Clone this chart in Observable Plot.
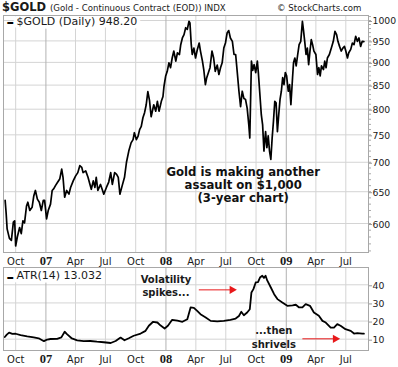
<!DOCTYPE html>
<html><head><meta charset="utf-8">
<script src="https://cdn.jsdelivr.net/npm/d3@7"></script>
<script src="https://cdn.jsdelivr.net/npm/@observablehq/plot@0.6"></script>
<style>
body{margin:0;background:#fff;}
#chart{width:398px;height:367px;overflow:hidden;font-family:"DejaVu Sans",sans-serif;color:#1a1a1a;}
svg{display:block}
</style></head><body>
<div id="chart">
<svg width="398" height="14" font-family="DejaVu Sans" fill="#1a1a1a">
<text id="t1" x="2" y="10.5" font-weight="bold" font-size="11.5"></text>
<text id="t2" x="50" y="10.5" font-size="8.6"></text>
<text id="t3" x="277" y="10.5" font-size="8.6"></text>
</svg>
</div>
<script>
const titleMain = "$GOLD";
const titleSub = "(Gold - Continuous Contract (EOD)) INDX";
const credit = "© StockCharts.com";

const priceDates = ["2006-08-30","2006-09-02","2006-09-05","2006-09-12","2006-09-18","2006-09-24","2006-09-28","2006-10-01","2006-10-06","2006-10-13","2006-10-18","2006-10-23","2006-10-28","2006-11-03","2006-11-07","2006-11-13","2006-11-20","2006-11-25","2006-11-30","2006-12-06","2006-12-12","2006-12-18","2006-12-24","2006-12-28",
"2007-01-03","2007-01-08","2007-01-15","2007-01-20","2007-01-25","2007-01-30","2007-02-06","2007-02-12","2007-02-18","2007-02-22","2007-02-27","2007-03-05","2007-03-12","2007-03-17","2007-03-25","2007-04-01","2007-04-08","2007-04-14","2007-04-20","2007-04-24","2007-05-02","2007-05-09","2007-05-15","2007-05-19","2007-05-25","2007-05-30","2007-06-03","2007-06-08","2007-06-16","2007-06-21","2007-06-26","2007-07-04","2007-07-11","2007-07-17","2007-07-22","2007-07-29","2007-08-04","2007-08-09","2007-08-14","2007-08-21","2007-08-28","2007-09-03","2007-09-10","2007-09-17","2007-09-23","2007-09-27","2007-10-03","2007-10-08","2007-10-13","2007-10-18","2007-10-23","2007-10-28","2007-11-02","2007-11-07","2007-11-12","2007-11-17","2007-11-25","2007-12-01","2007-12-06","2007-12-11","2007-12-18","2007-12-23","2007-12-26","2007-12-31",
"2008-01-05","2008-01-10","2008-01-15","2008-01-20","2008-01-25","2008-01-31","2008-02-05","2008-02-11","2008-02-15","2008-02-20","2008-02-25","2008-03-01","2008-03-06","2008-03-11","2008-03-14","2008-03-18","2008-03-21","2008-03-26","2008-03-31","2008-04-05","2008-04-11","2008-04-15","2008-04-21","2008-04-25","2008-04-30","2008-05-04","2008-05-09","2008-05-14","2008-05-20","2008-05-25","2008-05-30","2008-06-05","2008-06-10","2008-06-15","2008-06-20","2008-06-25","2008-06-30","2008-07-05","2008-07-10","2008-07-15","2008-07-21","2008-07-26","2008-07-31","2008-08-05","2008-08-10","2008-08-15","2008-08-20","2008-08-25","2008-08-30","2008-09-04","2008-09-09","2008-09-12","2008-09-17","2008-09-21","2008-09-25","2008-09-30","2008-10-05","2008-10-08","2008-10-12","2008-10-17","2008-10-21","2008-10-25","2008-10-30","2008-11-03","2008-11-07","2008-11-11","2008-11-15","2008-11-19","2008-11-23","2008-11-27","2008-12-01","2008-12-05","2008-12-09","2008-12-13","2008-12-17","2008-12-21","2008-12-25","2008-12-29",
"2009-01-02","2009-01-07","2009-01-11","2009-01-15","2009-01-20","2009-01-23","2009-01-27","2009-01-31","2009-02-04","2009-02-09","2009-02-14","2009-02-19","2009-02-22","2009-02-26","2009-03-02","2009-03-06","2009-03-10","2009-03-14","2009-03-18","2009-03-22","2009-03-26","2009-04-01","2009-04-06","2009-04-10","2009-04-14","2009-04-18","2009-04-24","2009-04-28","2009-05-02","2009-05-06","2009-05-12","2009-05-18","2009-05-24","2009-05-29","2009-06-03","2009-06-07","2009-06-12","2009-06-17","2009-06-22","2009-06-27","2009-07-01","2009-07-06","2009-07-10","2009-07-16","2009-07-21","2009-07-26","2009-07-31","2009-08-05","2009-08-10","2009-08-15","2009-08-20","2009-08-25"];
const priceValues = [636,616,592,578,575,602,604,567,580,594,585,604,601,627,633,620,625,643,652,638,633,620,636,636,
607,620,630,652,655,660,666,671,688,674,641,652,646,657,668,676,682,694,691,682,685,674,662,654,668,657,674,652,662,654,646,657,666,682,662,682,679,674,646,660,674,700,720,735,741,754,741,747,760,766,783,793,809,836,818,785,809,796,816,796,816,826,847,869,
880,899,888,910,926,903,922,918,941,957,965,982,978,998,994,941,918,933,910,928,945,926,903,884,851,866,877,888,926,910,880,894,873,888,899,933,945,969,975,957,949,918,918,877,837,805,837,822,820,802,769,744,903,882,895,877,903,877,837,789,769,720,756,726,748,720,705,744,776,816,813,756,789,820,837,866,851,877,
870,837,851,809,866,899,910,892,914,941,949,998,978,949,918,933,895,926,953,941,926,918,873,888,870,892,884,903,888,910,918,933,949,973,965,949,937,926,933,937,926,910,922,930,945,941,961,949,957,937,949,948.2];

const atrDates = ["2006-08-29","2006-09-04","2006-09-11","2006-09-21","2006-10-01","2006-10-16","2006-11-05","2006-11-25","2006-12-10","2006-12-26","2007-01-05","2007-01-15","2007-02-04","2007-02-17","2007-02-27","2007-03-06","2007-03-21","2007-04-06","2007-04-26","2007-05-16","2007-06-05","2007-06-26","2007-07-17","2007-08-01","2007-08-16","2007-08-28","2007-09-10","2007-09-25","2007-10-16","2007-10-31","2007-11-10","2007-11-23","2007-12-06","2007-12-16","2007-12-28","2008-01-07","2008-01-20","2008-02-05","2008-02-20","2008-03-06","2008-03-16","2008-03-26","2008-04-05","2008-04-15","2008-05-01","2008-05-16","2008-06-05","2008-06-25","2008-07-15","2008-07-31","2008-08-10","2008-08-17","2008-08-25","2008-09-04","2008-09-12","2008-09-17","2008-09-23","2008-09-30","2008-10-07","2008-10-13","2008-10-20","2008-10-25","2008-10-30","2008-11-04","2008-11-15","2008-11-25","2008-12-05","2008-12-20","2009-01-04","2009-01-20","2009-01-30","2009-02-09","2009-02-19","2009-03-01","2009-03-14","2009-03-26","2009-04-10","2009-04-21","2009-05-01","2009-05-16","2009-05-26","2009-06-05","2009-06-15","2009-06-30","2009-07-16","2009-07-26","2009-08-05","2009-08-20","2009-08-25"];
const atrValues = [11.2,12.5,13.6,12.9,13.0,12.3,11.6,11.0,10.5,8.9,9.8,10.1,10.2,11.0,14.1,12.8,10.4,9.4,8.9,9.0,8.6,8.3,7.9,9.0,10.9,9.4,10.5,11.9,13.1,14.6,17.4,19.6,19.2,17.5,15.9,17.4,20.7,20.2,19.6,21.0,27.5,27.3,25.6,23.8,22.0,20.1,19.8,20.1,20.7,21.4,22.8,25.1,23.2,24.7,26.5,35.8,37.6,41.3,41.5,44.0,45.0,43.8,45.0,42.4,38.5,34.8,32.1,30.2,28.4,28.7,29.0,27.5,27.5,29.3,28.4,24.7,22.9,20.1,19.2,16.4,16.4,18.3,17.4,15.5,14.6,13.1,13.3,13.1,13.032];

const priceTicks = [600,650,700,750,800,850,900,950,1000];
const atrTicks = [10,20,30,40];

// annotations
const priceNote = [{date:"2008-08-23", value:634, text:"Gold is making another\nassault on $1,000\n(3-year chart)"}];
const atrNotes = [
  {date:"2008-01-01", value:33.9, text:"Volatility\nspikes...", lh:1.26},
  {date:"2008-11-24", value:5.4, text:"...then\nshrivels", lh:1.33}
];
const atrArrows = [
  {from:"2008-04-10", to:"2008-07-20", value:37.2},
  {from:"2009-02-19", to:"2009-05-30", value:10.2}
];

document.getElementById("t1").textContent = titleMain;
document.getElementById("t2").textContent = titleSub;
document.getElementById("t3").textContent = credit;

const parse = d3.utcParse("%Y-%m-%d");
const price = priceDates.map((d,i)=>({date:parse(d), value:priceValues[i]}));
const atr = atrDates.map((d,i)=>({date:parse(d), value:atrValues[i]}));
const pNote = priceNote.map(d=>({...d, date:parse(d.date)}));
const aNotes = atrNotes.map(d=>({...d, date:parse(d.date)}));
const aArrows = atrArrows.map(d=>({from:parse(d.from), to:parse(d.to), value:d.value}));

const xDomain = [new Date(Date.UTC(2006,7,25)), new Date(Date.UTC(2009,8,8))];
const quarters = d3.utcMonth.every(3).range(xDomain[0], xDomain[1]);
const years = quarters.filter(d=>d.getUTCMonth()===0);
const months = quarters.filter(d=>d.getUTCMonth()!==0);
const fmtMonth = d3.utcFormat("%b"), fmtYear = d3.utcFormat("%y");
const priceMinor = d3.range(560, 1011, 10);

const gridLight = "#d4d4d4", gridDark = "#b2b2b2", frameCol = "#a8a8a8";
const baseStyle = {fontFamily:"DejaVu Sans", fontSize:"10px", color:"#1a1a1a", background:"#fff", overflow:"visible"};

function xAxes() {
  return [
    Plot.gridX(months, {stroke:gridLight, strokeOpacity:1}),
    Plot.gridX(years, {stroke:gridDark, strokeOpacity:1}),
    Plot.axisX(months, {anchor:"bottom", tickSize:0, tickPadding:5, tickFormat:fmtMonth, label:null, fontSize:10}),
    Plot.axisX(years, {anchor:"bottom", tickSize:0, tickPadding:3.5, tickFormat:fmtYear, label:null, fontWeight:"bold", fontFamily:"Liberation Serif", fontSize:12.5})
  ];
}

const last = priceValues[priceValues.length-1];
const lastAtr = atrValues[atrValues.length-1];

const pricePlot = Plot.plot({
  width:398, height:251, marginTop:1, marginBottom:13, marginLeft:3, marginRight:30,
  style: baseStyle,
  x:{type:"utc", domain:xDomain},
  y:{type:"log", domain:[557.8, 1012.7], label:null},
  marks:[
    Plot.gridY(priceTicks, {stroke:gridLight, strokeOpacity:1}),
    ...xAxes(),
    Plot.axisY(priceMinor, {anchor:"right", tickSize:2, tickFormat:()=>"", label:null, stroke:"#aaa"}),
    Plot.axisY(priceTicks, {anchor:"right", tickSize:3, tickPadding:1, tickFormat:d=>String(d), label:null, fontSize:9.3, dy:1, stroke:"#999"}),
    Plot.lineY(price, {x:"date", y:"value", stroke:"#000", strokeWidth:1.7, strokeLinejoin:"round"}),
    Plot.text(pNote, {x:"date", y:"value", text:"text", lineAnchor:"bottom", lineHeight:1.11, fontWeight:"bold", fontSize:11.7, fill:"#111", textAnchor:"middle"}),
    Plot.text([`$GOLD (Daily) ${last.toFixed(2)}`], {frameAnchor:"top-left", dx:13, dy:1.3, fontSize:11, letterSpacing:"0.25px", fill:"#1a1a1a", stroke:"#fff", strokeWidth:7, textAnchor:"start"}),
    Plot.text(["\u2013"], {frameAnchor:"top-left", dx:3, dy:1, fontSize:15, fontWeight:"bold", fill:"#000", textAnchor:"start"}),
    Plot.frame({stroke:frameCol})
  ]
});

const atrPlot = Plot.plot({
  width:398, height:102, marginTop:2, marginBottom:17, marginLeft:3, marginRight:30,
  style: baseStyle,
  x:{type:"utc", domain:xDomain},
  y:{domain:[3.76, 49.54], label:null},
  marks:[
    Plot.gridY(atrTicks, {stroke:gridLight, strokeOpacity:1}),
    ...xAxes(),
    Plot.axisY(atrTicks, {anchor:"right", tickSize:3, tickPadding:1, tickFormat:d=>String(d), label:null, fontSize:9.3, dy:1, stroke:"#999"}),
    Plot.lineY(atr, {x:"date", y:"value", stroke:"#000", strokeWidth:1.8, strokeLinejoin:"round"}),
    Plot.link(aArrows, {x1:"from", x2:"to", y1:"value", y2:"value", stroke:"#e8181a", strokeWidth:1}),
    Plot.dot(aArrows, {x:"to", y:"value", symbol:"triangle", rotate:90, r:3.1, fill:"#e8181a", stroke:null}),
    ...aNotes.map(n => Plot.text([n], {x:"date", y:"value", text:"text", lineAnchor:"bottom", lineHeight:n.lh, fontWeight:"bold", fontSize:10, fill:"#1a1a1a", textAnchor:"middle"})),
    Plot.text([`ATR(14) ${lastAtr.toFixed(3)}`], {frameAnchor:"top-left", dx:13, dy:3.7, fontSize:11, letterSpacing:"0.15px", fill:"#1a1a1a", stroke:"#fff", strokeWidth:7, textAnchor:"start"}),
    Plot.text(["\u2013"], {frameAnchor:"top-left", dx:3, dy:3.4, fontSize:15, fontWeight:"bold", fill:"#000", textAnchor:"start"}),
    Plot.frame({stroke:frameCol})
  ]
});

const chart = document.getElementById("chart");
chart.appendChild(pricePlot);
chart.appendChild(atrPlot);
</script>
</body></html>
